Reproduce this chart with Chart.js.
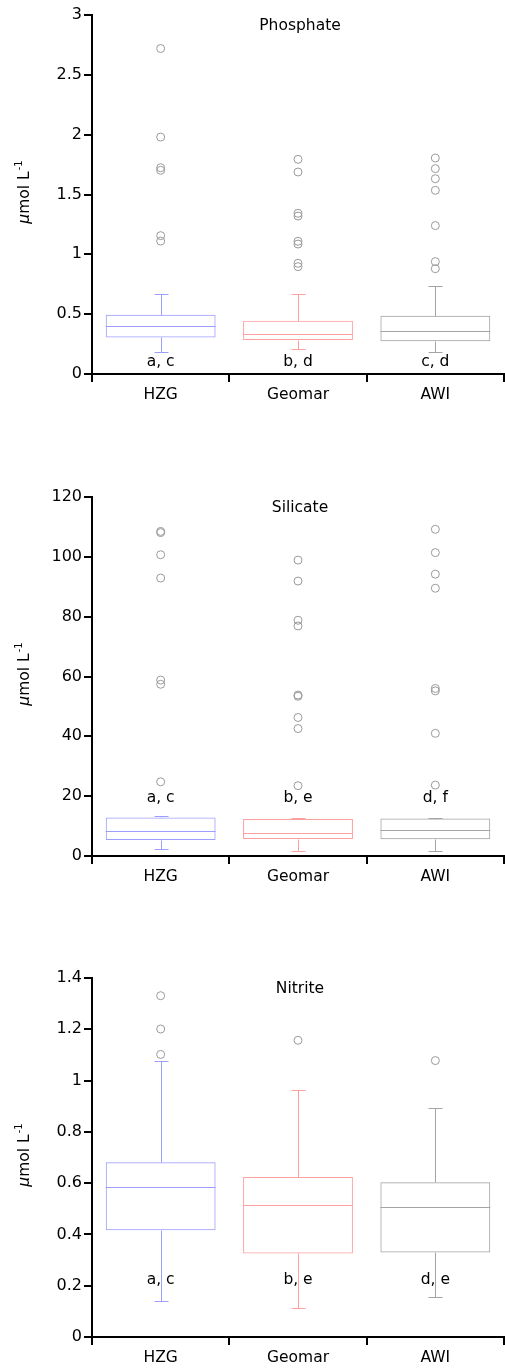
<!doctype html>
<html lang="en">
<head>
    <meta charset="utf-8">
    <title>Phosphate, Silicate, Nitrite</title>
    <style>
        * {
            margin: 0;
            padding: 0;
        }

        body {
            width: 505px;
            height: 1369px;
            overflow: hidden;
            background: #fff;
            position: relative;
        }

        .chartBox {
            position: absolute;
            left: 0;
            width: 509px;
            height: 405px;
        }
    </style>
</head>
<body>
<div class="chartBox" style="top:0px"><canvas id="phosphateChart"></canvas></div>
<div class="chartBox" style="top:482px"><canvas id="silicateChart"></canvas></div>
<div class="chartBox" style="top:963px"><canvas id="nitriteChart"></canvas></div>
<script src="https://cdn.jsdelivr.net/npm/chart.js"></script>
<script>
    // data
    const categories = ['HZG', 'Geomar', 'AWI'];
    const boxColors = ['#9e9eff', '#ffa0a0', '#a4a4a4'];

    // phosphate
    const phosphateLow = [0.187, 0.212, 0.187];
    const phosphateQ1 = [0.306, 0.284, 0.273];
    const phosphateMedian = [0.401, 0.331, 0.359];
    const phosphateQ3 = [0.496, 0.446, 0.487];
    const phosphateHigh = [0.666, 0.671, 0.733];
    const phosphateOutliers = [
        [2.72, 1.98, 1.724, 1.702, 1.156, 1.111],
        [1.794, 1.688, 1.343, 1.32, 1.109, 1.086, 0.925, 0.897],
        [1.805, 1.716, 1.632, 1.535, 1.24, 0.939, 0.88]
    ];
    const phosphateLetters = ['a, c', 'b, d', 'c, d'];

    // silicate
    const silicateLow = [2.34, 1.67, 1.67];
    const silicateQ1 = [5.34, 5.7, 5.57];
    const silicateMedian = [8.35, 7.8, 8.8];
    const silicateQ3 = [12.9, 12.4, 12.5];
    const silicateHigh = [13.4, 12.7, 12.8];
    const silicateOutliers = [
        [108.5, 108.1, 100.7, 92.9, 58.8, 57.4, 24.8],
        [98.9, 91.9, 78.8, 76.9, 53.8, 53.4, 46.3, 42.6, 23.5],
        [109.2, 101.4, 94.2, 89.5, 56.0, 55.2, 41.0, 23.7]
    ];
    const silicateLetters = ['a, c', 'b, e', 'd, f'];

    // nitrite
    const nitriteLow = [0.142, 0.113, 0.157];
    const nitriteQ1 = [0.416, 0.326, 0.33];
    const nitriteMedian = [0.585, 0.515, 0.507];
    const nitriteQ3 = [0.681, 0.624, 0.603];
    const nitriteHigh = [1.076, 0.963, 0.892];
    const nitriteOutliers = [
        [1.331, 1.201, 1.102],
        [1.157],
        [1.078]
    ];
    const nitriteLetters = ['a, c', 'b, e', 'd, e'];

    const fontFamily = "'DejaVu Sans', sans-serif";
    const textSize = 15.5;

    // whiskers, medians, letters, titles
    const boxExtras = {
        id: 'boxExtras',
        afterDatasetsDraw(chart, args, opts) {
            const {ctx, chartArea: {top, bottom, left, right}, scales: {y}} = chart;
            const meta = chart.getDatasetMeta(0);
            const snap = v => Math.round(v) + 0.5;
            ctx.save();
            ctx.lineWidth = 1;
            meta.data.forEach((bar, i) => {
                const cx = snap(bar.x);
                const half = bar.width / 2;
                const hiY = snap(y.getPixelForValue(opts.high[i]));
                const loY = snap(y.getPixelForValue(opts.low[i]));
                ctx.strokeStyle = boxColors[i];
                ctx.beginPath();
                // upper whisker
                ctx.moveTo(cx, snap(y.getPixelForValue(opts.q3[i])));
                ctx.lineTo(cx, hiY);
                ctx.moveTo(cx - 7, hiY);
                ctx.lineTo(cx + 7, hiY);
                // lower whisker
                ctx.moveTo(cx, snap(y.getPixelForValue(opts.q1[i])));
                ctx.lineTo(cx, loY);
                ctx.moveTo(cx - 7, loY);
                ctx.lineTo(cx + 7, loY);
                // median
                ctx.moveTo(bar.x - half, snap(y.getPixelForValue(opts.median[i])));
                ctx.lineTo(bar.x + half, snap(y.getPixelForValue(opts.median[i])));
                ctx.stroke();

                ctx.fillStyle = '#000';
                ctx.font = textSize + 'px ' + fontFamily;
                ctx.textAlign = 'center';
                ctx.textBaseline = 'middle';
                ctx.fillText(opts.letters[i], bar.x, y.getPixelForValue(opts.letterY));
            });

            // panel title
            ctx.fillStyle = '#000';
            ctx.font = textSize + 'px ' + fontFamily;
            ctx.textAlign = 'center';
            ctx.textBaseline = 'middle';
            ctx.fillText(opts.title, (left + right) / 2 + 2, top + 11);

            // y axis title with italic mu and superscript
            ctx.translate(25, (top + bottom) / 2 - 2);
            ctx.rotate(-Math.PI / 2);
            ctx.textAlign = 'left';
            ctx.font = 'italic ' + textSize + 'px ' + fontFamily;
            const w1 = ctx.measureText('μ').width;
            ctx.font = textSize + 'px ' + fontFamily;
            const w2 = ctx.measureText('mol L').width;
            ctx.font = '10px ' + fontFamily;
            const w3 = ctx.measureText('-1').width;
            let x0 = -(w1 + w2 + w3) / 2;
            ctx.font = 'italic ' + textSize + 'px ' + fontFamily;
            ctx.fillText('μ', x0, 0);
            ctx.font = textSize + 'px ' + fontFamily;
            ctx.fillText('mol L', x0 + w1, 0);
            ctx.font = '10px ' + fontFamily;
            ctx.fillText('-1', x0 + w1 + w2 + 1, -6);
            ctx.restore();
        }
    };

    function makeChart(id, title, yMax, step, low, q1, median, q3, high, outliers, letters, letterY) {
        const outlierPoints = [];
        outliers.forEach((list, i) => {
            list.forEach(v => outlierPoints.push({x: categories[i], y: v}));
        });

        const config = {
            type: 'bar',
            data: {
                labels: categories,
                datasets: [{
                    label: 'box',
                    data: categories.map((c, i) => [q1[i], q3[i]]),
                    backgroundColor: 'rgba(255, 255, 255, 0)',
                    borderColor: boxColors,
                    borderWidth: 1,
                    borderSkipped: false,
                    barPercentage: 1,
                    categoryPercentage: 0.8,
                }, {
                    type: 'line',
                    label: 'outliers',
                    data: outlierPoints,
                    showLine: false,
                    pointRadius: 4,
                    pointBorderWidth: 1,
                    pointBorderColor: '#9a9a9a',
                    pointBackgroundColor: 'rgba(255, 255, 255, 0)',
                }]
            },
            options: {
                responsive: true,
                maintainAspectRatio: false,
                animation: false,
                layout: {
                    padding: {top: 15, right: 0, left: 0, bottom: 0}
                },
                plugins: {
                    legend: {display: false},
                    tooltip: {enabled: false},
                    boxExtras: {
                        title: title,
                        low: low,
                        q1: q1,
                        median: median,
                        q3: q3,
                        high: high,
                        letters: letters,
                        letterY: letterY
                    }
                },
                scales: {
                    x: {
                        type: 'category',
                        offset: true,
                        grid: {
                            offset: true,
                            drawOnChartArea: false,
                            drawTicks: true,
                            tickLength: 8,
                            color: '#000',
                            lineWidth: 2
                        },
                        border: {color: '#000', width: 2},
                        ticks: {
                            color: '#000',
                            font: {family: fontFamily, size: textSize},
                            padding: 4
                        },
                        afterFit(scale) {
                            scale.height = 31;
                        }
                    },
                    y: {
                        min: 0,
                        max: yMax,
                        grid: {
                            drawOnChartArea: false,
                            drawTicks: true,
                            tickLength: 8,
                            color: '#000',
                            lineWidth: 2
                        },
                        border: {color: '#000', width: 2},
                        ticks: {
                            stepSize: step,
                            color: '#000',
                            font: {family: fontFamily, size: 16},
                            padding: 2,
                            callback: v => String(+v.toFixed(2))
                        },
                        afterFit(scale) {
                            scale.width = 92;
                        }
                    }
                }
            },
            plugins: [boxExtras]
        };

        return new Chart(document.getElementById(id), config);
    }

    makeChart('phosphateChart', 'Phosphate', 3, 0.5,
        phosphateLow, phosphateQ1, phosphateMedian, phosphateQ3, phosphateHigh,
        phosphateOutliers, phosphateLetters, 0.1);
    makeChart('silicateChart', 'Silicate', 120, 20,
        silicateLow, silicateQ1, silicateMedian, silicateQ3, silicateHigh,
        silicateOutliers, silicateLetters, 19.3);
    makeChart('nitriteChart', 'Nitrite', 1.4, 0.2,
        nitriteLow, nitriteQ1, nitriteMedian, nitriteQ3, nitriteHigh,
        nitriteOutliers, nitriteLetters, 0.221);
</script>
</body>
</html>
